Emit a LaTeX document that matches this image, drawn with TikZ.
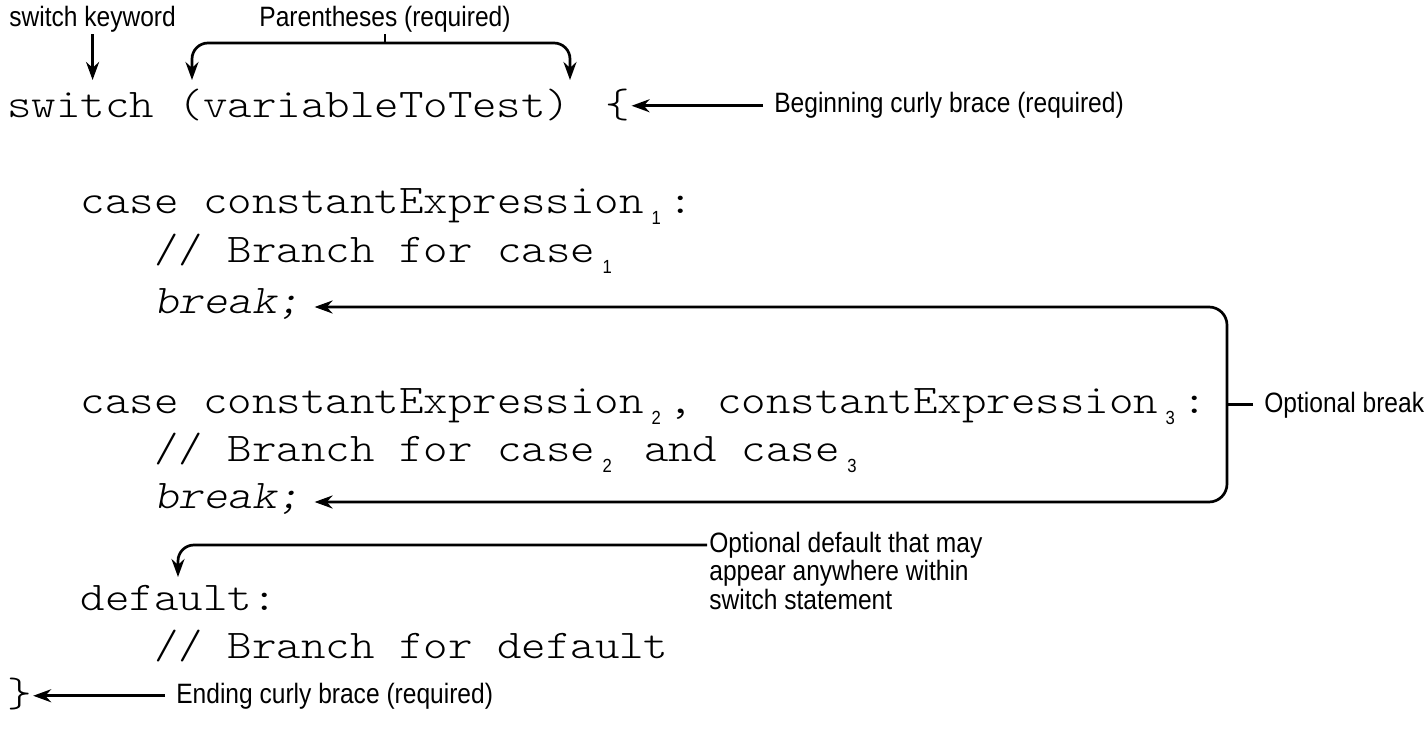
\documentclass[tikz,border=0pt]{standalone}
\usepackage{fontspec}
\newfontfamily\codefont{lmmonolt10-regular}[Extension=.otf, ItalicFont=lmmonolt10-oblique, FakeStretch=1.143]
\newfontfamily\notefont[FakeStretch=0.877]{Liberation Sans}
\usetikzlibrary{arrows.meta}

% subscript digit, one monospace cell wide
\newcommand{\subnum}[1]{\makebox[24.48pt][c]{\raisebox{-11pt}{\notefont\fontsize{19}{19}\selectfont #1}}}

\begin{document}
\begin{tikzpicture}[
    x=1pt, y=-1pt,
    line width=2.7pt,
    code/.style={
        font={\codefont\fontsize{40.8}{40.8}\selectfont\frenchspacing},
        inner sep=0pt,
        anchor=base west
    },
    note/.style={
        font={\notefont\fontsize{28}{27.5}\selectfont},
        inner xsep=10pt,
        inner ysep=0pt,
        anchor=base west
    },
    harrow/.style={-{Stealth[length=18pt, width=13pt]}},
    barrow/.style={{Stealth[length=18pt, width=13pt]}-{Stealth[length=18pt, width=13pt]}}
]
\useasboundingbox (0,0) rectangle (1427,743);

% === CODE LINES ===
\node (swline) [code] at (6,118) {switch (variableToTest)};
\node (lbrace) [code, anchor=base] at (618,118) {\{};

\node (case1) [code] at (79.5,214) {case constantExpression\subnum{1}:};
\node (branch1) [code] at (153,263) {// Branch for case\subnum{1}};
\node (brk1) [code] at (153,313) {\textit{break;}};

\node (case2) [code] at (79.5,413) {case constantExpression\subnum{2}, constantExpression\subnum{3}:};
\node (branch2) [code] at (153,461) {// Branch for case\subnum{2} and case\subnum{3}};
\node (brk2) [code] at (153,508) {\textit{break;}};

\node (dflt) [code] at (79.5,610) {default:};
\node (branchdef) [code] at (153,658) {// Branch for default};
\node (rbrace) [code] at (6,706) {\}};

% === KEYWORD AND PARENTHESES ===
\node (kwlabel) [note] at (-2,27) {switch keyword};
\node (parlabel) [note, anchor=base] at (385,27) {Parentheses (required)};
\coordinate (kwtip) at (94,80);
\coordinate (lparen) at (192,80);
\coordinate (rparen) at (570,80);
\coordinate (partop) at (381,43);

\draw [harrow] (kwlabel.south) -- (kwlabel.south |- kwtip);
\draw [barrow, rounded corners=16pt] (lparen) |- (partop) -| (rparen);
\draw (parlabel.south) -- (parlabel.south |- partop);

% === BEGINNING BRACE ===
\node (beglabel) [note] at (763,113) {Beginning curly brace (required)};
\draw [harrow] (beglabel.west) -- (beglabel.west -| lbrace.east);

% === OPTIONAL BREAK ===
\node (bklabel) [note] at (1253,412) {Optional break};
\coordinate (bkbar) at (1227,405);
\draw [barrow, rounded corners=18pt] ([xshift=12pt, yshift=6pt]brk1.base east) -| (bkbar) |- ([xshift=12pt, yshift=6pt]brk2.base east);
\draw (bklabel.west) -- (bklabel.west -| bkbar);

% === OPTIONAL DEFAULT ===
\node (deflabel) [note] at (698,552) {\begin{tabular}[t]{@{}l@{}}Optional default that may\\appear anywhere within\\switch statement\end{tabular}};
\coordinate (deftip) at (178,577);
\draw [harrow, rounded corners=16pt] ([xshift=9pt, yshift=7pt]deflabel.base west) -| (deftip);

% === ENDING BRACE ===
\node (endlabel) [note] at (165,703) {Ending curly brace (required)};
\draw [harrow] (endlabel.west) -- (endlabel.west -| rbrace.east);

\end{tikzpicture}
\end{document}
